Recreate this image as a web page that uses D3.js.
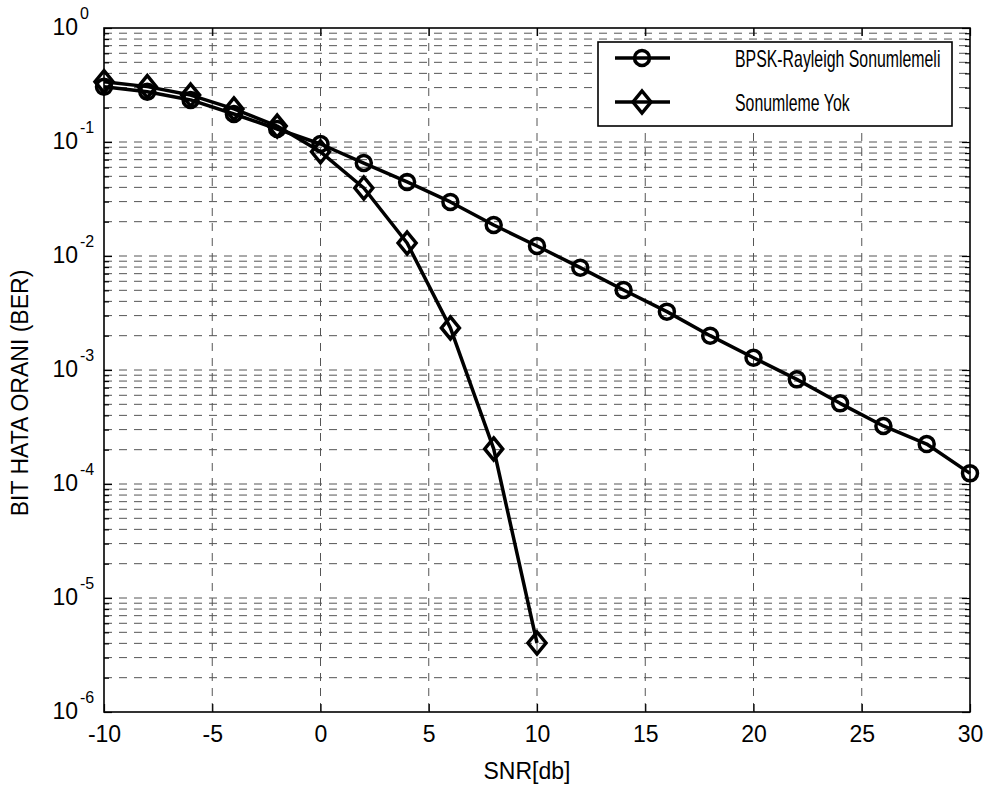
<!DOCTYPE html>
<html>
<head>
<meta charset="utf-8">
<script src="https://cdn.jsdelivr.net/npm/d3@7"></script>
<style>
body { margin: 0; background: #fff; }
text { font-family: Arial, "Liberation Sans", sans-serif; fill: #000; }
</style>
</head>
<body>
<svg id="chart" width="991" height="787"></svg>
<script>
// Data
var snrRayleigh = [-10, -8, -6, -4, -2, 0, 2, 4, 6, 8, 10, 12, 14, 16, 18, 20, 22, 24, 26, 28, 30];
var berRayleigh = [0.305, 0.276, 0.234, 0.176, 0.130, 0.096, 0.0654, 0.0446, 0.0298, 0.0187, 0.01224,
                   0.0079, 0.00503, 0.00325, 0.0020, 0.00128, 0.000828, 0.00051, 0.000323, 0.000224, 0.000124];
var snrNoFade = [-10, -8, -6, -4, -2, 0, 2, 4, 6, 8, 10];
var berNoFade = [0.338, 0.306, 0.258, 0.195, 0.138, 0.082, 0.0395, 0.013, 0.00234, 0.000203, 0.00000403];
var xTicks = [-10, -5, 0, 5, 10, 15, 20, 25, 30];
var yDecades = [-6, -5, -4, -3, -2, -1, 0];
var seriesNames = ["BPSK-Rayleigh Sonumlemeli", "Sonumleme Yok"];
var xLabel = "SNR[db]";
var yLabel = "BIT HATA ORANI (BER)";

//plot area (window.top is reserved, so prefixed names)
var pLeft = 104, pRight = 970, pTop = 28, pBottom = 712;

var svg = d3.select("#chart");

var x = d3.scaleLinear().domain([-10, 30]).range([pLeft, pRight]);
var y = d3.scaleLog().domain([1e-6, 1]).range([pBottom, pTop]);

//major and minor y values
var yMajor = yDecades.map(function(k) { return Math.pow(10, k); });
var yMinor = [];
yDecades.slice(0, -1).forEach(function(k) {
    for (var m = 2; m <= 9; m++) yMinor.push(m * Math.pow(10, k));
});
var yAll = yMajor.concat(yMinor);

////////////////////// Grid /////////////////////////
var grid = svg.append("g")
    .attr("stroke", "#555")
    .attr("stroke-width", 1)
    .attr("stroke-dasharray", "8,7");

grid.selectAll("line.gx")
    .data(xTicks.slice(1, -1))
    .enter()
    .append("line")
    .attr("x1", d => x(d)).attr("x2", d => x(d))
    .attr("y1", pTop).attr("y2", pBottom);

grid.selectAll("line.gy")
    .data(yAll.filter(d => d > 1e-6 && d < 1))
    .enter()
    .append("line")
    .attr("x1", pLeft).attr("x2", pRight)
    .attr("y1", d => y(d)).attr("y2", d => y(d));

////////////////////// Axes /////////////////////////
var xAxis = d3.axisBottom(x)
    .tickValues(xTicks)
    .tickSizeInner(-8)
    .tickSizeOuter(0)
    .tickPadding(14)
    .tickFormat(d => d);

var gx = svg.append("g")
    .attr("transform", "translate(0," + pBottom + ")")
    .call(xAxis);
gx.selectAll("text").style("font-size", "23px").attr("fill", "#000");

svg.append("g")
    .attr("transform", "translate(0," + pTop + ")")
    .call(d3.axisTop(x).tickValues(xTicks).tickSizeInner(-8).tickSizeOuter(0).tickFormat(""));

svg.append("g")
    .attr("transform", "translate(" + pLeft + ",0)")
    .call(d3.axisLeft(y).tickValues(yMajor).tickSizeInner(-8).tickSizeOuter(0).tickFormat(""));
svg.append("g")
    .attr("transform", "translate(" + pLeft + ",0)")
    .call(d3.axisLeft(y).tickValues(yMinor).tickSizeInner(-5).tickSizeOuter(0).tickFormat(""));
svg.append("g")
    .attr("transform", "translate(" + pRight + ",0)")
    .call(d3.axisRight(y).tickValues(yMajor).tickSizeInner(-8).tickSizeOuter(0).tickFormat(""));
svg.append("g")
    .attr("transform", "translate(" + pRight + ",0)")
    .call(d3.axisRight(y).tickValues(yMinor).tickSizeInner(-5).tickSizeOuter(0).tickFormat(""));

svg.selectAll(".domain").remove();
svg.selectAll(".tick line").attr("stroke", "#000").attr("stroke-width", 1.2);

//y tick labels 10^k
var ylab = svg.append("g");
ylab.selectAll("text.base")
    .data(yDecades)
    .enter()
    .append("text")
    .attr("x", 78)
    .attr("y", d => y(Math.pow(10, d)) + 7)
    .attr("text-anchor", "end")
    .style("font-size", "23px")
    .text("10");
ylab.selectAll("text.exp")
    .data(yDecades)
    .enter()
    .append("text")
    .attr("x", 80)
    .attr("y", d => y(Math.pow(10, d)) - 9)
    .style("font-size", "16px")
    .text(d => d);

//box
svg.append("rect")
    .attr("x", pLeft).attr("y", pTop)
    .attr("width", pRight - pLeft).attr("height", pBottom - pTop)
    .attr("fill", "none")
    .attr("stroke", "#000")
    .attr("stroke-width", 1.6);

//axis titles
svg.append("text")
    .attr("x", 527).attr("y", 779)
    .attr("text-anchor", "middle")
    .style("font-size", "23px")
    .text(xLabel);

svg.append("text")
    .attr("transform", "translate(28,393) rotate(-90)")
    .attr("text-anchor", "middle")
    .style("font-size", "23px")
    .text(yLabel);

////////////////////// Series /////////////////////////
var line = d3.line()
    .x(d => x(d[0]))
    .y(d => y(d[1]));

var rayleigh = snrRayleigh.map((d, i) => [d, berRayleigh[i]]);
var noFade = snrNoFade.map((d, i) => [d, berNoFade[i]]);

function diamond(cx, cy) {
    return "M" + cx + "," + (cy - 11) + "L" + (cx + 9) + "," + cy +
        "L" + cx + "," + (cy + 11) + "L" + (cx - 9) + "," + cy + "Z";
}

function drawSeries(pts, marker) {
    var g = svg.append("g");
    g.append("path")
        .datum(pts)
        .attr("d", line)
        .attr("fill", "none")
        .attr("stroke", "#000")
        .attr("stroke-width", 3.5)
        .attr("stroke-linejoin", "round");
    if (marker == "o") {
        g.selectAll("circle")
            .data(pts)
            .enter()
            .append("circle")
            .attr("cx", d => x(d[0]))
            .attr("cy", d => y(d[1]))
            .attr("r", 7.5)
            .attr("fill", "none")
            .attr("stroke", "#000")
            .attr("stroke-width", 3.5);
    } else {
        g.selectAll("path.m")
            .data(pts)
            .enter()
            .append("path")
            .attr("d", d => diamond(x(d[0]), y(d[1])))
            .attr("fill", "none")
            .attr("stroke", "#000")
            .attr("stroke-width", 3.5)
            .attr("stroke-linejoin", "miter");
    }
}

drawSeries(rayleigh, "o");
drawSeries(noFade, "d");

////////////////////// Legend /////////////////////////
var legend = svg.append("g");
legend.append("rect")
    .attr("x", 598).attr("y", 42)
    .attr("width", 354).attr("height", 84)
    .attr("fill", "#fff")
    .attr("stroke", "#000")
    .attr("stroke-width", 1.6);

var rows = [58, 102];
seriesNames.forEach(function(name, i) {
    var cy = rows[i];
    legend.append("line")
        .attr("x1", 615).attr("x2", 670)
        .attr("y1", cy).attr("y2", cy)
        .attr("stroke", "#000")
        .attr("stroke-width", 3.5);
    if (i == 0) {
        legend.append("circle")
            .attr("cx", 642).attr("cy", cy).attr("r", 7.5)
            .attr("fill", "none").attr("stroke", "#000").attr("stroke-width", 3.5);
    } else {
        legend.append("path")
            .attr("d", diamond(642, cy))
            .attr("fill", "none").attr("stroke", "#000").attr("stroke-width", 3.5);
    }
    legend.append("text")
        .attr("transform", "translate(735," + (cy + 9) + ") scale(0.69,1)")
        .style("font-size", "23px")
        .text(name);
});
</script>
</body>
</html>
